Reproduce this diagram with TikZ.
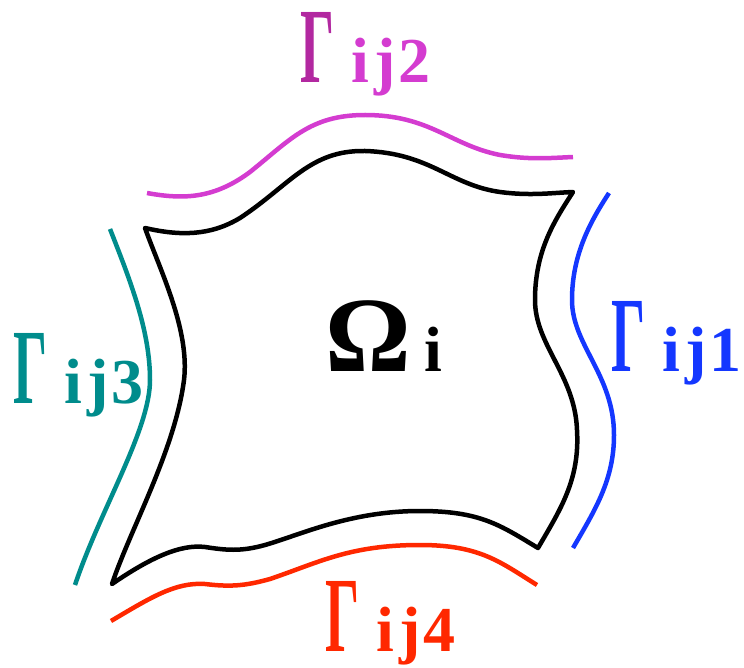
\documentclass[tikz,border=0pt]{standalone}
\usepackage{fontspec}
\usepackage{graphicx}
\setmainfont{Liberation Serif}
\definecolor{cblue}{RGB}{20,55,255}
\definecolor{cteal}{RGB}{0,140,140}
\definecolor{cred}{RGB}{255,40,0}
\definecolor{cmag}{RGB}{212,60,208}
\definecolor{cmagdark}{RGB}{178,40,160}
\newcommand{\bigG}{\smash{\scalebox{0.5}[1]{\fontsize{107}{107}\selectfont\bfseries\char"0393}}}
\newcommand{\smallsub}[1]{{\fontsize{64}{64}\selectfont\bfseries #1}}
\begin{document}
\begin{tikzpicture}[x=1pt,y=-1pt,
  edge/.style={line width=4.5pt,line join=round},
  bnd/.style={line width=4.5pt},
  lbl/.style={inner sep=0pt,anchor=base west}]
\useasboundingbox (0,0) rectangle (744,668);
% domain boundary
\draw[edge,black]
  (145,228) .. controls (180,236) and (210,236) .. (240,218)
  .. controls (290,185) and (310,150) .. (365,151)
  .. controls (430,153) and (450,185) .. (500,192)
  .. controls (530,196) and (550,193) .. (573,192)
  .. controls (555,220) and (535,250) .. (535,300)
  .. controls (535,345) and (575,375) .. (577,430)
  .. controls (580,480) and (560,510) .. (538,548)
  .. controls (500,525) and (480,511) .. (420,511)
  .. controls (350,511) and (300,535) .. (265,545)
  .. controls (240,552) and (225,550) .. (205,547)
  .. controls (180,544) and (150,558) .. (112,584)
  .. controls (130,530) and (175,450) .. (184,380)
  .. controls (190,330) and (160,270) .. (145,228) -- cycle;
% interface curves
\draw[bnd,cmag] (147,193) .. controls (185,200) and (215,198) .. (250,172)
  .. controls (290,140) and (310,115) .. (365,115)
  .. controls (430,115) and (450,145) .. (500,155)
  .. controls (530,160) and (550,158) .. (573,157);
\draw[bnd,cblue] (609,193) .. controls (590,222) and (572,255) .. (572,300)
  .. controls (572,345) and (614,375) .. (614,435)
  .. controls (614,480) and (595,510) .. (573,548);
\draw[bnd,cteal] (110,229) .. controls (130,280) and (150,330) .. (150,380)
  .. controls (150,430) and (100,510) .. (75,585);
\draw[bnd,cred] (111,621) .. controls (150,598) and (175,582) .. (205,584)
  .. controls (230,587) and (245,586) .. (270,579)
  .. controls (320,562) and (350,545) .. (420,545)
  .. controls (480,545) and (500,562) .. (537,585);
% labels
\node[lbl] (omega) at (325,371) {\smash{\fontsize{107}{107}\selectfont\bfseries Ω}\hspace{14pt}\smallsub{i}};
\node[lbl,text=cblue] (g1) at (611,371) {\bigG\hspace{17pt}\smallsub{i\hspace{6pt}j\hspace{2pt}1}};
\node[lbl] (g2) at (300,83) {\textcolor{cmagdark}{\bigG}\hspace{17pt}\textcolor{cmag}{\smallsub{i\hspace{6pt}j\hspace{2pt}2}}};
\node[lbl,text=cteal] (g3) at (13,403) {\bigG\hspace{17pt}\smallsub{i\hspace{6pt}j\hspace{2pt}3}};
\node[lbl,text=cred] (g4) at (325,651) {\bigG\hspace{17pt}\smallsub{i\hspace{6pt}j\hspace{2pt}4}};
\end{tikzpicture}
\end{document}
